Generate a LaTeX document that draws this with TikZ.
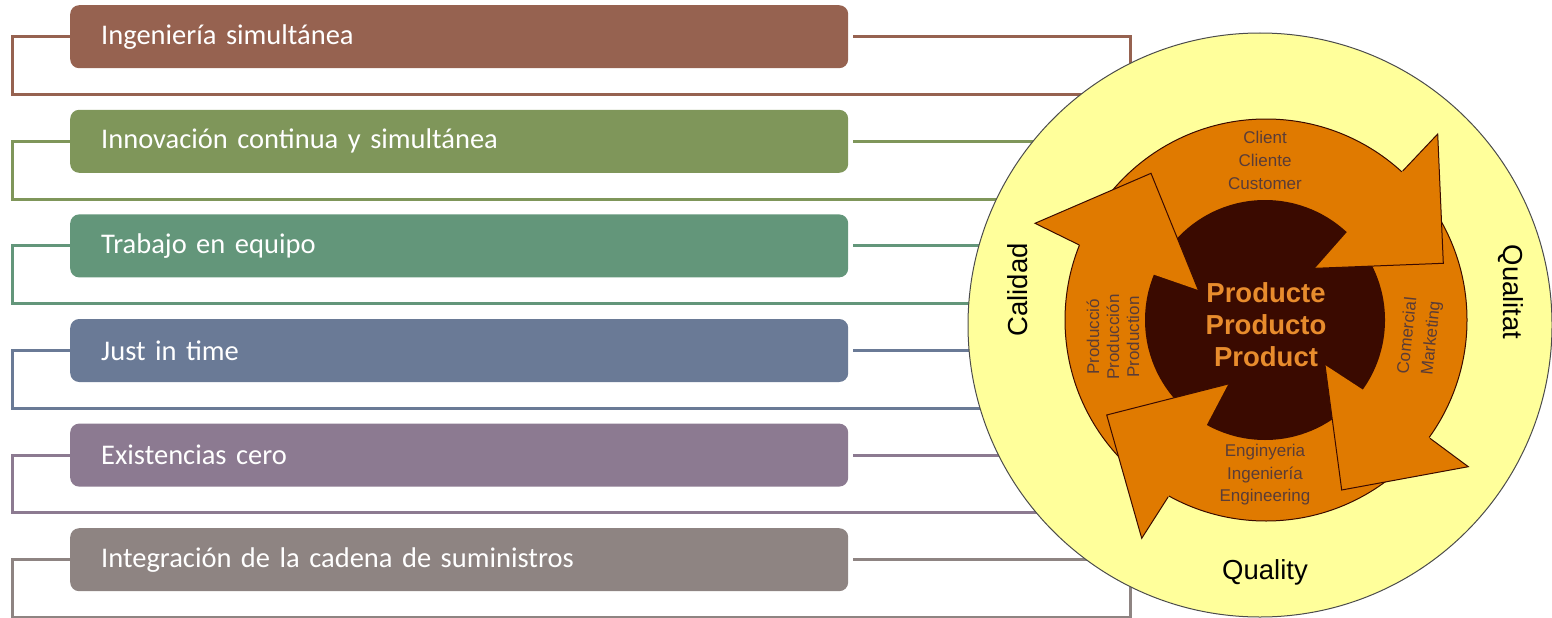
\documentclass[tikz,border=0pt]{standalone}
\usepackage{fontspec}
\setmainfont{Liberation Sans}
\newfontfamily\boxfont{Carlito}
\usepackage{xcolor}
\usetikzlibrary{positioning,calc}

\definecolor{rowA}{RGB}{150,98,80}
\definecolor{rowB}{RGB}{127,150,90}
\definecolor{rowC}{RGB}{99,150,122}
\definecolor{rowD}{RGB}{106,122,150}
\definecolor{rowE}{RGB}{140,122,145}
\definecolor{rowF}{RGB}{142,132,130}
\definecolor{ringyellow}{RGB}{255,255,155}
\definecolor{ringorange}{RGB}{224,122,0}
\definecolor{coredark}{RGB}{58,10,0}
\definecolor{labelbrown}{RGB}{90,60,55}
\definecolor{coretext}{RGB}{232,140,45}

\tikzset{
  itembox/.style={fill=#1, rounded corners=9pt, minimum width=778pt, minimum height=63pt,
    text width=716pt, inner xsep=31pt, inner ysep=0pt, align=left, text=white,
    font=\boxfont\fontsize{28.5}{34}\selectfont, anchor=north west},
  frameline/.style={line width=3pt},
  ringlabel/.style={text=labelbrown, align=center, inner sep=0pt},
  corelabel/.style={text=coretext, align=center, inner sep=0pt,
    font=\bfseries\fontsize{27.5}{32}\selectfont},
  qualitylabel/.style={text=black, inner sep=0pt, font=\fontsize{27.5}{32}\selectfont},
  headfill/.style={fill=ringorange},
  headline/.style={draw=coredark, line width=1pt, line join=miter}
}

\begin{document}
\begin{tikzpicture}[x=1pt,y=-1pt]
\useasboundingbox (0,0) rectangle (1552,618);

% the six items, each with its frame
\foreach \c/\t [count=\i from 0] in {rowA/Ingeniería simultánea,
    rowB/Innovación continua y simultánea, rowC/Trabajo en equipo,
    rowD/Just in time, rowE/Existencias cero,
    rowF/Integración de la cadena de suministros}{
  \node[itembox=\c] (b\i) at (70,{5+104.6*\i}) {\t};
  \draw[frameline,draw=\c] (b\i.west) -- ++(-58,0) |- ($(b\i.south)+(0,26)$)
    -| ($(b\i.east)+(282,0)$) -- ($(b\i.east)+(5,0)$);
}

% quality ring
\filldraw[fill=ringyellow, draw=gray!60!black, line width=1pt] (1260,325) circle[radius=292];
\filldraw[fill=ringorange, draw=coredark, line width=1pt] (1266,320) circle[radius=201];
\fill[coredark] (1265,320) circle[radius=120];

% arrow heads
\fill[headfill] (1402.7,171) -- (1437.7,134) -- (1443.3,263.3) -- (1315,268.3) -- (1347,232) -- cycle;
\draw[headline] (1402.7,171) -- (1437.7,134) -- (1443.3,263.3) -- (1315,268.3);
\fill[headfill] (1079.3,245) -- (1035,223.3) -- (1151,173.3) -- (1198.3,290) -- (1155,275) -- cycle;
\draw[headline] (1079.3,245) -- (1035,223.3) -- (1151,173.3) -- (1198.3,290);
\fill[headfill] (1168.3,496.7) -- (1141.7,538.3) -- (1106.7,415) -- (1228.3,384) -- (1206.7,425) -- cycle;
\draw[headline] (1168.3,496.7) -- (1141.7,538.3) -- (1106.7,415) -- (1228.3,384);
\fill[headfill] (1430,438.3) -- (1468.3,466.7) -- (1341.7,490) -- (1325,365) -- (1363.3,390) -- cycle;
\draw[headline] (1430,438.3) -- (1468.3,466.7) -- (1341.7,490) -- (1325,365);

% labels
\node[corelabel] (product) at (1266,325) {Producte\\Producto\\Product};
\node[ringlabel, font=\fontsize{17}{23}\selectfont] (client) at (1265,160) {Client\\Cliente\\Customer};
\node[ringlabel, font=\fontsize{17}{20}\selectfont, rotate=90] (production) at (1113,337) {Producció\\Producción\\Production};
\node[ringlabel, font=\fontsize{17}{24}\selectfont, rotate=84] (marketing) at (1420,337) {Comercial\\Marketing};
\node[ringlabel, font=\fontsize{17}{22.5}\selectfont] (engineering) at (1265,475) {Enginyeria\\Ingeniería\\Engineering};
\node[qualitylabel, rotate=90] (calidad) at (1018,290) {Calidad};
\node[qualitylabel, rotate=-90] (qualitat) at (1511,292) {Qualitat};
\node[qualitylabel] (quality) at (1265,572) {Quality};
\end{tikzpicture}
\end{document}
